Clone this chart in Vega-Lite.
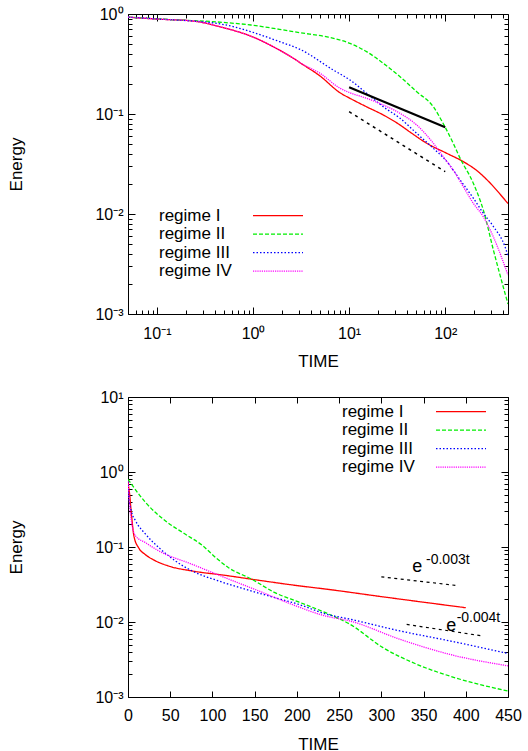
{
  "$schema": "https://vega.github.io/schema/vega-lite/v6.json",
  "padding": {"left": 7, "top": 5, "right": 0, "bottom": 0},
  "spacing": 18,
  "datasets": {
    "top": [
      {"regime": "regime I", "t": 0.05, "E": 0.93}, {"regime": "regime I", "t": 0.1, "E": 0.89}, {"regime": "regime I", "t": 0.24, "E": 0.85}, {"regime": "regime I", "t": 0.475, "E": 0.736}, {"regime": "regime I", "t": 0.95, "E": 0.6}, {"regime": "regime I", "t": 1.88, "E": 0.436}, {"regime": "regime I", "t": 2.8, "E": 0.347}, {"regime": "regime I", "t": 3.08, "E": 0.326}, {"regime": "regime I", "t": 4.98, "E": 0.24}, {"regime": "regime I", "t": 8.04, "E": 0.163}, {"regime": "regime I", "t": 10.2, "E": 0.1435}, {"regime": "regime I", "t": 15.2, "E": 0.118}, {"regime": "regime I", "t": 22.7, "E": 0.0977}, {"regime": "regime I", "t": 33.9, "E": 0.0776}, {"regime": "regime I", "t": 43, "E": 0.066}, {"regime": "regime I", "t": 64.2, "E": 0.051}, {"regime": "regime I", "t": 104, "E": 0.0404}, {"regime": "regime I", "t": 154, "E": 0.0334}, {"regime": "regime I", "t": 213, "E": 0.0272}, {"regime": "regime I", "t": 292, "E": 0.0205}, {"regime": "regime I", "t": 372, "E": 0.0158}, {"regime": "regime I", "t": 450, "E": 0.0127},
      {"regime": "regime II", "t": 0.05, "E": 0.93}, {"regime": "regime II", "t": 0.108, "E": 0.89}, {"regime": "regime II", "t": 0.475, "E": 0.826}, {"regime": "regime II", "t": 0.95, "E": 0.776}, {"regime": "regime II", "t": 1.88, "E": 0.703}, {"regime": "regime II", "t": 3.08, "E": 0.65}, {"regime": "regime II", "t": 5.9, "E": 0.59}, {"regime": "regime II", "t": 10.2, "E": 0.509}, {"regime": "regime II", "t": 15.2, "E": 0.42}, {"regime": "regime II", "t": 22.7, "E": 0.321}, {"regime": "regime II", "t": 33.9, "E": 0.236}, {"regime": "regime II", "t": 50.5, "E": 0.167}, {"regime": "regime II", "t": 75.2, "E": 0.118}, {"regime": "regime II", "t": 95.5, "E": 0.08}, {"regime": "regime II", "t": 121, "E": 0.051}, {"regime": "regime II", "t": 143, "E": 0.036}, {"regime": "regime II", "t": 196, "E": 0.0203}, {"regime": "regime II", "t": 249, "E": 0.011}, {"regime": "regime II", "t": 317, "E": 0.00437}, {"regime": "regime II", "t": 419, "E": 0.00161}, {"regime": "regime II", "t": 450, "E": 0.00126},
      {"regime": "regime III", "t": 0.05, "E": 0.93}, {"regime": "regime III", "t": 0.108, "E": 0.89}, {"regime": "regime III", "t": 0.475, "E": 0.79}, {"regime": "regime III", "t": 0.95, "E": 0.665}, {"regime": "regime III", "t": 1.88, "E": 0.53}, {"regime": "regime III", "t": 3.08, "E": 0.443}, {"regime": "regime III", "t": 6.85, "E": 0.275}, {"regime": "regime III", "t": 10.2, "E": 0.219}, {"regime": "regime III", "t": 15.2, "E": 0.161}, {"regime": "regime III", "t": 22.7, "E": 0.118}, {"regime": "regime III", "t": 33.9, "E": 0.0906}, {"regime": "regime III", "t": 50.5, "E": 0.064}, {"regime": "regime III", "t": 75.2, "E": 0.0454}, {"regime": "regime III", "t": 104, "E": 0.0334}, {"regime": "regime III", "t": 143, "E": 0.0219}, {"regime": "regime III", "t": 196, "E": 0.0144}, {"regime": "regime III", "t": 249, "E": 0.0102}, {"regime": "regime III", "t": 317, "E": 0.0075}, {"regime": "regime III", "t": 419, "E": 0.0047}, {"regime": "regime III", "t": 450, "E": 0.0038},
      {"regime": "regime IV", "t": 0.05, "E": 0.93}, {"regime": "regime IV", "t": 0.1, "E": 0.89}, {"regime": "regime IV", "t": 0.24, "E": 0.85}, {"regime": "regime IV", "t": 0.475, "E": 0.736}, {"regime": "regime IV", "t": 0.95, "E": 0.6}, {"regime": "regime IV", "t": 1.88, "E": 0.436}, {"regime": "regime IV", "t": 2.8, "E": 0.347}, {"regime": "regime IV", "t": 3.08, "E": 0.326}, {"regime": "regime IV", "t": 4.98, "E": 0.255}, {"regime": "regime IV", "t": 8.04, "E": 0.181}, {"regime": "regime IV", "t": 10.2, "E": 0.163}, {"regime": "regime IV", "t": 15.2, "E": 0.1435}, {"regime": "regime IV", "t": 22.7, "E": 0.123}, {"regime": "regime IV", "t": 33.9, "E": 0.1015}, {"regime": "regime IV", "t": 50.5, "E": 0.0776}, {"regime": "regime IV", "t": 75.2, "E": 0.051}, {"regime": "regime IV", "t": 95.5, "E": 0.0374}, {"regime": "regime IV", "t": 121, "E": 0.0275}, {"regime": "regime IV", "t": 154, "E": 0.0188}, {"regime": "regime IV", "t": 196, "E": 0.0128}, {"regime": "regime IV", "t": 249, "E": 0.0094}, {"regime": "regime IV", "t": 317, "E": 0.0059}, {"regime": "regime IV", "t": 450, "E": 0.00245}
    ],
    "topref": [
      {"line": "t^-0.4", "t": 10, "E": 0.185}, {"line": "t^-0.4", "t": 100, "E": 0.0737},
      {"line": "t^-0.6", "t": 10, "E": 0.1055}, {"line": "t^-0.6", "t": 100, "E": 0.0265}
    ],
    "bottom": [
      {"regime": "regime I", "t": 0, "E": 0.78}, {"regime": "regime I", "t": 1, "E": 0.6}, {"regime": "regime I", "t": 2, "E": 0.5}, {"regime": "regime I", "t": 3, "E": 0.37}, {"regime": "regime I", "t": 4.4, "E": 0.25}, {"regime": "regime I", "t": 7, "E": 0.14}, {"regime": "regime I", "t": 13, "E": 0.096}, {"regime": "regime I", "t": 20, "E": 0.08}, {"regime": "regime I", "t": 29, "E": 0.0686}, {"regime": "regime I", "t": 48, "E": 0.0558}, {"regime": "regime I", "t": 76, "E": 0.0479}, {"regime": "regime I", "t": 115, "E": 0.0419}, {"regime": "regime I", "t": 155, "E": 0.036}, {"regime": "regime I", "t": 204, "E": 0.0302}, {"regime": "regime I", "t": 234, "E": 0.0275}, {"regime": "regime I", "t": 300, "E": 0.0218}, {"regime": "regime I", "t": 400, "E": 0.0155},
      {"regime": "regime II", "t": 0, "E": 0.8}, {"regime": "regime II", "t": 21, "E": 0.39}, {"regime": "regime II", "t": 44.5, "E": 0.222}, {"regime": "regime II", "t": 68, "E": 0.148}, {"regime": "regime II", "t": 88, "E": 0.105}, {"regime": "regime II", "t": 104, "E": 0.072}, {"regime": "regime II", "t": 119, "E": 0.053}, {"regime": "regime II", "t": 147, "E": 0.037}, {"regime": "regime II", "t": 174, "E": 0.0246}, {"regime": "regime II", "t": 202, "E": 0.0185}, {"regime": "regime II", "t": 234, "E": 0.0133}, {"regime": "regime II", "t": 263, "E": 0.0093}, {"regime": "regime II", "t": 302, "E": 0.00455}, {"regime": "regime II", "t": 342, "E": 0.00273}, {"regime": "regime II", "t": 381, "E": 0.0019}, {"regime": "regime II", "t": 450, "E": 0.0012},
      {"regime": "regime III", "t": 0, "E": 0.75}, {"regime": "regime III", "t": 1.2, "E": 0.45}, {"regime": "regime III", "t": 4, "E": 0.3}, {"regime": "regime III", "t": 9.1, "E": 0.222}, {"regime": "regime III", "t": 20.9, "E": 0.148}, {"regime": "regime III", "t": 36.6, "E": 0.098}, {"regime": "regime III", "t": 56.3, "E": 0.065}, {"regime": "regime III", "t": 76, "E": 0.0479}, {"regime": "regime III", "t": 107.5, "E": 0.0352}, {"regime": "regime III", "t": 139, "E": 0.0273}, {"regime": "regime III", "t": 174, "E": 0.0211}, {"regime": "regime III", "t": 204, "E": 0.0169}, {"regime": "regime III", "t": 234, "E": 0.0128}, {"regime": "regime III", "t": 263, "E": 0.0109}, {"regime": "regime III", "t": 322, "E": 0.0076}, {"regime": "regime III", "t": 381, "E": 0.0056}, {"regime": "regime III", "t": 450, "E": 0.0038},
      {"regime": "regime IV", "t": 0, "E": 0.75}, {"regime": "regime IV", "t": 2, "E": 0.35}, {"regime": "regime IV", "t": 5, "E": 0.19}, {"regime": "regime IV", "t": 9.1, "E": 0.14}, {"regime": "regime IV", "t": 20.9, "E": 0.114}, {"regime": "regime IV", "t": 36.6, "E": 0.0885}, {"regime": "regime IV", "t": 76, "E": 0.0588}, {"regime": "regime IV", "t": 115, "E": 0.039}, {"regime": "regime IV", "t": 155, "E": 0.0259}, {"regime": "regime IV", "t": 194, "E": 0.0172}, {"regime": "regime IV", "t": 234, "E": 0.012}, {"regime": "regime IV", "t": 263, "E": 0.0103}, {"regime": "regime IV", "t": 322, "E": 0.00588}, {"regime": "regime IV", "t": 381, "E": 0.0037}, {"regime": "regime IV", "t": 450, "E": 0.0026}
    ],
    "botref": [
      {"line": "e^-0.003t", "t": 300, "E": 0.04}, {"line": "e^-0.003t", "t": 390, "E": 0.0306},
      {"line": "e^-0.004t", "t": 330, "E": 0.0093}, {"line": "e^-0.004t", "t": 420, "E": 0.0065}
    ],
    "ann": [
      {"part": "base", "txt": "e", "t": 342.6, "E": 0.0469},
      {"part": "sup", "txt": "-0.003t", "t": 352.9, "E": 0.06},
      {"part": "base", "txt": "e", "t": 382.9, "E": 0.00759},
      {"part": "sup", "txt": "-0.004t", "t": 389.2, "E": 0.0101}
    ]
  },
  "vconcat": [
    {
      "width": 380,
      "height": 300,
      "layer": [
        {
          "data": {"name": "top"},
          "mark": {"type": "line", "strokeWidth": 1.3, "clip": true, "interpolate": "monotone"},
          "encoding": {
            "x": {"field": "t", "type": "quantitative",
              "scale": {"type": "log", "domain": [0.05, 450], "nice": false},
              "axis": {"orient": "bottom", "title": "TIME", "tickCount": 10, "labelOverlap": false, "labelFlush": false, "labelPadding": 18, "titlePadding": 9,
                "labelExpr": "abs(log(datum.value)/LN10 - round(log(datum.value)/LN10)) < 1e-6 ? '10' + (round(log(datum.value)/LN10) == -1 ? '⁻¹' : round(log(datum.value)/LN10) == 0 ? '⁰' : round(log(datum.value)/LN10) == 1 ? '¹' : '²') : ''",
                "tickSize": {"condition": {"test": "abs(log(datum.value)/LN10 - round(log(datum.value)/LN10)) < 1e-6", "value": -7}, "value": -4}}},
            "y": {"field": "E", "type": "quantitative",
              "scale": {"type": "log", "domain": [0.001, 1], "nice": false},
              "axis": {"orient": "left", "title": "Energy", "tickCount": 10, "labelOverlap": false, "labelPadding": 12, "titlePadding": 69,
                "labelExpr": "abs(log(datum.value)/LN10 - round(log(datum.value)/LN10)) < 1e-6 ? '10' + (round(log(datum.value)/LN10) == -1 ? '⁻¹' : round(log(datum.value)/LN10) == 0 ? '⁰' : round(log(datum.value)/LN10) == -2 ? '⁻²' : '⁻³') : ''",
                "tickSize": {"condition": {"test": "abs(log(datum.value)/LN10 - round(log(datum.value)/LN10)) < 1e-6", "value": -7}, "value": -4}}},
            "color": {"field": "regime", "type": "nominal",
              "scale": {"domain": ["regime I", "regime II", "regime III", "regime IV"], "range": ["#ff0000", "#00ee00", "#0000ff", "#ff00ff"]},
              "legend": {"orient": "none", "legendX": 141, "legendY": 192.7, "title": null, "symbolType": "M-3.125,0H3.125", "symbolSize": 256, "symbolStrokeWidth": 1.3, "labelOffset": -128, "rowPadding": 1.5, "padding": 0, "labelLimit": 0}},
            "strokeDash": {"field": "regime", "type": "nominal",
              "scale": {"domain": ["regime I", "regime II", "regime III", "regime IV"], "range": [[1, 0], [4, 2], [1.5, 2], [1.2, 1]]},
              "legend": {"orient": "none", "legendX": 141, "legendY": 192.7, "title": null, "symbolType": "M-3.125,0H3.125", "symbolSize": 256, "symbolStrokeWidth": 1.3, "labelOffset": -128, "rowPadding": 1.5, "padding": 0, "labelLimit": 0}}
          }
        },
        {
          "data": {"name": "topref"},
          "transform": [{"filter": "datum.line == 't^-0.4'"}],
          "mark": {"type": "line", "color": "black", "strokeWidth": 2.2},
          "encoding": {
            "x": {"field": "t", "type": "quantitative", "scale": {"type": "log", "domain": [0.05, 450], "nice": false},
              "axis": {"orient": "top", "title": null, "labels": false, "tickCount": 10,
                "tickSize": {"condition": {"test": "abs(log(datum.value)/LN10 - round(log(datum.value)/LN10)) < 1e-6", "value": -7}, "value": -4}}},
            "y": {"field": "E", "type": "quantitative", "scale": {"type": "log", "domain": [0.001, 1], "nice": false},
              "axis": {"orient": "right", "title": null, "labels": false, "tickCount": 10,
                "tickSize": {"condition": {"test": "abs(log(datum.value)/LN10 - round(log(datum.value)/LN10)) < 1e-6", "value": -7}, "value": -4}}}
          }
        },
        {
          "data": {"name": "topref"},
          "transform": [{"filter": "datum.line == 't^-0.6'"}],
          "mark": {"type": "line", "color": "black", "strokeWidth": 1.5, "strokeDash": [3, 4]},
          "encoding": {
            "x": {"field": "t", "type": "quantitative", "scale": {"type": "log", "domain": [0.05, 450], "nice": false}, "axis": null},
            "y": {"field": "E", "type": "quantitative", "scale": {"type": "log", "domain": [0.001, 1], "nice": false}, "axis": null}
          }
        }
      ],
      "resolve": {"axis": {"x": "independent", "y": "independent"}}
    },
    {
      "width": 380,
      "height": 300,
      "layer": [
        {
          "data": {"name": "bottom"},
          "mark": {"type": "line", "strokeWidth": 1.3, "clip": true, "interpolate": "monotone"},
          "encoding": {
            "x": {"field": "t", "type": "quantitative",
              "scale": {"domain": [0, 450], "nice": false},
              "axis": {"orient": "bottom", "title": "TIME", "values": [0, 50, 100, 150, 200, 250, 300, 350, 400, 450], "labelOverlap": false, "labelFlush": false, "labelPadding": 16, "titlePadding": 13, "tickSize": -6}},
            "y": {"field": "E", "type": "quantitative",
              "scale": {"type": "log", "domain": [0.001, 10], "nice": false},
              "axis": {"orient": "left", "title": "Energy", "tickCount": 10, "labelOverlap": false, "labelPadding": 12, "titlePadding": 69,
                "labelExpr": "abs(log(datum.value)/LN10 - round(log(datum.value)/LN10)) < 1e-6 ? '10' + (round(log(datum.value)/LN10) == 1 ? '¹' : round(log(datum.value)/LN10) == 0 ? '⁰' : round(log(datum.value)/LN10) == -1 ? '⁻¹' : round(log(datum.value)/LN10) == -2 ? '⁻²' : '⁻³') : ''",
                "tickSize": {"condition": {"test": "abs(log(datum.value)/LN10 - round(log(datum.value)/LN10)) < 1e-6", "value": -7}, "value": -4}}},
            "color": {"field": "regime", "type": "nominal",
              "scale": {"domain": ["regime I", "regime II", "regime III", "regime IV"], "range": ["#ff0000", "#00ee00", "#0000ff", "#ff00ff"]},
              "legend": {"orient": "none", "legendX": 324, "legendY": 5.7, "title": null, "symbolType": "M-3.125,0H3.125", "symbolSize": 256, "symbolStrokeWidth": 1.3, "labelOffset": -128, "rowPadding": 1.5, "padding": 0, "labelLimit": 0}},
            "strokeDash": {"field": "regime", "type": "nominal",
              "scale": {"domain": ["regime I", "regime II", "regime III", "regime IV"], "range": [[1, 0], [4, 2], [1.5, 2], [1.2, 1]]},
              "legend": {"orient": "none", "legendX": 324, "legendY": 5.7, "title": null, "symbolType": "M-3.125,0H3.125", "symbolSize": 256, "symbolStrokeWidth": 1.3, "labelOffset": -128, "rowPadding": 1.5, "padding": 0, "labelLimit": 0}}
          }
        },
        {
          "data": {"name": "botref"},
          "mark": {"type": "line", "color": "black", "strokeWidth": 1.2, "strokeDash": [3, 3.5]},
          "encoding": {
            "x": {"field": "t", "type": "quantitative", "scale": {"domain": [0, 450], "nice": false},
              "axis": {"orient": "top", "title": null, "labels": false, "values": [0, 50, 100, 150, 200, 250, 300, 350, 400, 450], "tickSize": -6}},
            "y": {"field": "E", "type": "quantitative", "scale": {"type": "log", "domain": [0.001, 10], "nice": false},
              "axis": {"orient": "right", "title": null, "labels": false, "tickCount": 10,
                "tickSize": {"condition": {"test": "abs(log(datum.value)/LN10 - round(log(datum.value)/LN10)) < 1e-6", "value": -7}, "value": -4}}},
            "detail": {"field": "line"}
          }
        },
        {
          "data": {"name": "ann"},
          "transform": [{"filter": "datum.part == 'base'"}],
          "mark": {"type": "text", "fontSize": 18, "align": "center", "baseline": "alphabetic", "font": "Liberation Sans", "color": "black"},
          "encoding": {
            "x": {"field": "t", "type": "quantitative", "scale": {"domain": [0, 450], "nice": false}, "axis": null},
            "y": {"field": "E", "type": "quantitative", "scale": {"type": "log", "domain": [0.001, 10], "nice": false}, "axis": null},
            "text": {"field": "txt"}
          }
        },
        {
          "data": {"name": "ann"},
          "transform": [{"filter": "datum.part == 'sup'"}],
          "mark": {"type": "text", "fontSize": 14, "align": "left", "baseline": "alphabetic", "font": "Liberation Sans", "color": "black"},
          "encoding": {
            "x": {"field": "t", "type": "quantitative", "scale": {"domain": [0, 450], "nice": false}, "axis": null},
            "y": {"field": "E", "type": "quantitative", "scale": {"type": "log", "domain": [0.001, 10], "nice": false}, "axis": null},
            "text": {"field": "txt"}
          }
        }
      ],
      "resolve": {"axis": {"x": "independent", "y": "independent"}}
    }
  ],
  "resolve": {"scale": {"color": "independent", "strokeDash": "independent"}, "legend": {"color": "independent", "strokeDash": "independent"}},
  "config": {
    "font": "Liberation Sans",
    "view": {"stroke": "black", "strokeWidth": 1},
    "axis": {"grid": false, "domain": false, "labelFont": "Liberation Sans", "labelFontSize": 16, "labelColor": "black", "titleFont": "Liberation Sans", "titleFontSize": 17, "titleFontWeight": "normal", "titleColor": "black", "tickColor": "black", "tickWidth": 1},
    "legend": {"labelFont": "Liberation Sans", "labelFontSize": 17, "labelColor": "black"}
  }
}
